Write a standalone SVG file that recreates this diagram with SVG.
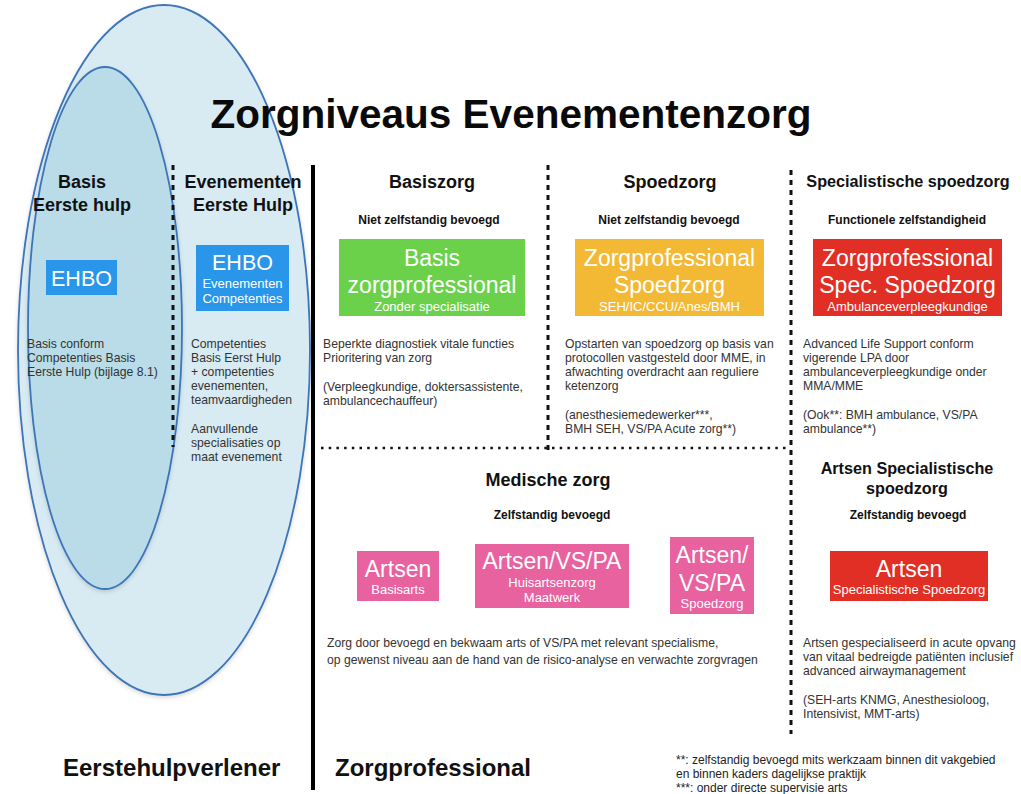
<svg xmlns="http://www.w3.org/2000/svg" width="1021" height="794" viewBox="0 0 1021 794">
  <style>
    text { font-family: "Liberation Sans", Arial, sans-serif; }
    .title { font-size: 40.5px; font-weight: bold; fill: #0a0a0a; }
    .head { font-size: 18px; font-weight: bold; fill: #111; }
    .head2 { font-size: 16.2px; font-weight: bold; fill: #111; }
    .sub { font-size: 12px; font-weight: bold; fill: #111; }
    .body { font-size: 12.2px; fill: #333; }
    .foot { font-size: 12px; fill: #222; }
    .big { font-size: 24px; font-weight: bold; fill: #111; }
    .bl { font-size: 23px; fill: #fff; }
    .bs { font-size: 13px; fill: #fff; }
    .dashv { stroke: #111; stroke-width: 3; stroke-dasharray: 5 5; fill: none; }
    .doth { stroke: #111; stroke-width: 2.5; stroke-dasharray: 2.5 5.2; fill: none; }
  </style>
  <defs>
    <filter id="soft" x="-10%" y="-10%" width="120%" height="120%">
      <feDropShadow dx="0" dy="2" stdDeviation="2" flood-color="#000" flood-opacity="0.15"/>
    </filter>
  </defs>
  <rect width="1021" height="794" fill="#fff"/>

  <!-- first-aid scope ellipses -->
  <g id="scope">
    <ellipse cx="164" cy="350" rx="146" ry="345" fill="#d8ebf3" stroke="#3d74b9" stroke-width="1.8" filter="url(#soft)"/>
    <ellipse cx="105" cy="328" rx="77" ry="261" fill="#b9dce8" stroke="#3d74b9" stroke-width="1.8" filter="url(#soft)"/>
  </g>

  <text class="title" x="511" y="128" text-anchor="middle">Zorgniveaus Evenementenzorg</text>

  <!-- separators -->
  <g id="connectors">
    <line class="dashv" x1="173" y1="165" x2="173" y2="447"/>
    <line x1="313" y1="165" x2="313" y2="790" stroke="#000" stroke-width="4"/>
    <line class="dashv" x1="548" y1="165" x2="548" y2="450"/>
    <line class="dashv" x1="791" y1="170" x2="791" y2="734"/>
    <line class="doth" x1="321" y1="448" x2="790" y2="448"/>
  </g>

  <g id="basis-eerste-hulp">
    <text class="head" x="82" y="188" text-anchor="middle">Basis</text>
    <text class="head" x="82" y="211" text-anchor="middle">Eerste hulp</text>
    <rect x="46" y="260" width="71" height="35" fill="#2a96ea"/>
    <text class="bl" x="81.5" y="286" text-anchor="middle" style="font-size:21.5px">EHBO</text>
    <text class="body" x="27" y="348">Basis conform</text>
    <text class="body" x="27" y="362">Competenties Basis</text>
    <text class="body" x="27" y="376">Eerste Hulp (bijlage 8.1)</text>
  </g>

  <g id="evenementen-eerste-hulp">
    <text class="head" x="243" y="188" text-anchor="middle">Evenementen</text>
    <text class="head" x="243" y="211" text-anchor="middle">Eerste Hulp</text>
    <rect x="196" y="245" width="93" height="66" fill="#2a96ea"/>
    <text class="bl" x="242.5" y="270" text-anchor="middle" style="font-size:21.5px">EHBO</text>
    <text class="bs" x="242.5" y="288" text-anchor="middle">Evenementen</text>
    <text class="bs" x="242.5" y="303" text-anchor="middle">Competenties</text>
    <text class="body" x="191" y="348">Competenties</text>
    <text class="body" x="191" y="362">Basis Eerst Hulp</text>
    <text class="body" x="191" y="376">+ competenties</text>
    <text class="body" x="191" y="390">evenementen,</text>
    <text class="body" x="191" y="404">teamvaardigheden</text>
    <text class="body" x="191" y="433">Aanvullende</text>
    <text class="body" x="191" y="447">specialisaties op</text>
    <text class="body" x="191" y="461">maat evenement</text>
  </g>

  <g id="basiszorg">
    <text class="head" x="432" y="188" text-anchor="middle">Basiszorg</text>
    <text class="sub" x="429" y="224" text-anchor="middle">Niet zelfstandig bevoegd</text>
    <rect x="339" y="239" width="186" height="77" fill="#6bd14b"/>
    <text class="bl" x="432" y="266" text-anchor="middle">Basis</text>
    <text class="bl" x="432" y="293" text-anchor="middle">zorgprofessional</text>
    <text class="bs" x="432" y="311" text-anchor="middle">Zonder specialisatie</text>
    <text class="body" x="323" y="348">Beperkte diagnostiek vitale functies</text>
    <text class="body" x="323" y="362">Prioritering van zorg</text>
    <text class="body" x="323" y="391">(Verpleegkundige, doktersassistente,</text>
    <text class="body" x="323" y="405">ambulancechauffeur)</text>
  </g>

  <g id="spoedzorg">
    <text class="head" x="670" y="188" text-anchor="middle">Spoedzorg</text>
    <text class="sub" x="669" y="224" text-anchor="middle">Niet zelfstandig bevoegd</text>
    <rect x="575" y="239" width="189" height="77" fill="#f3b934"/>
    <text class="bl" x="669.5" y="266" text-anchor="middle">Zorgprofessional</text>
    <text class="bl" x="669.5" y="293" text-anchor="middle">Spoedzorg</text>
    <text class="bs" x="669.5" y="311" text-anchor="middle">SEH/IC/CCU/Anes/BMH</text>
    <text class="body" x="565" y="348">Opstarten van spoedzorg op basis van</text>
    <text class="body" x="565" y="362">protocollen vastgesteld door MME, in</text>
    <text class="body" x="565" y="376">afwachting overdracht aan reguliere</text>
    <text class="body" x="565" y="390">ketenzorg</text>
    <text class="body" x="565" y="419">(anesthesiemedewerker***,</text>
    <text class="body" x="565" y="433">BMH SEH, VS/PA Acute zorg**)</text>
  </g>

  <g id="specialistische-spoedzorg">
    <text class="head2" x="908" y="187" text-anchor="middle">Specialistische spoedzorg</text>
    <text class="sub" x="907" y="224" text-anchor="middle">Functionele zelfstandigheid</text>
    <rect x="813" y="239" width="189" height="77" fill="#e12f25"/>
    <text class="bl" x="907.5" y="266" text-anchor="middle">Zorgprofessional</text>
    <text class="bl" x="907.5" y="293" text-anchor="middle">Spec. Spoedzorg</text>
    <text class="bs" x="907.5" y="311" text-anchor="middle">Ambulanceverpleegkundige</text>
    <text class="body" x="803" y="348">Advanced Life Support conform</text>
    <text class="body" x="803" y="362">vigerende LPA door</text>
    <text class="body" x="803" y="376">ambulanceverpleegkundige onder</text>
    <text class="body" x="803" y="390">MMA/MME</text>
    <text class="body" x="803" y="419">(Ook**: BMH ambulance, VS/PA</text>
    <text class="body" x="803" y="433">ambulance**)</text>
  </g>

  <g id="medische-zorg">
    <text class="head" x="548" y="486" text-anchor="middle">Medische zorg</text>
    <text class="sub" x="552" y="519" text-anchor="middle">Zelfstandig bevoegd</text>
    <rect x="357" y="551" width="82" height="50" fill="#e8629f"/>
    <text class="bl" x="398" y="577" text-anchor="middle">Artsen</text>
    <text class="bs" x="398" y="594" text-anchor="middle">Basisarts</text>
    <rect x="475" y="544" width="154" height="64" fill="#e8629f"/>
    <text class="bl" x="552" y="569" text-anchor="middle">Artsen/VS/PA</text>
    <text class="bs" x="552" y="587" text-anchor="middle">Huisartsenzorg</text>
    <text class="bs" x="552" y="602" text-anchor="middle">Maatwerk</text>
    <rect x="670" y="537" width="84" height="77" fill="#e8629f"/>
    <text class="bl" x="712" y="563" text-anchor="middle">Artsen/</text>
    <text class="bl" x="712" y="591" text-anchor="middle">VS/PA</text>
    <text class="bs" x="712" y="608" text-anchor="middle">Spoedzorg</text>
    <text class="body" x="327" y="647">Zorg door bevoegd en bekwaam arts of VS/PA met relevant specialisme,</text>
    <text class="body" x="327" y="664">op gewenst niveau aan de hand van de risico-analyse en verwachte zorgvragen</text>
  </g>

  <g id="artsen-specialistische-spoedzorg">
    <text class="head2" x="907" y="474" text-anchor="middle">Artsen Specialistische</text>
    <text class="head2" x="907" y="494" text-anchor="middle">spoedzorg</text>
    <text class="sub" x="908" y="519" text-anchor="middle">Zelfstandig bevoegd</text>
    <rect x="830" y="551" width="158" height="50" fill="#e12f25"/>
    <text class="bl" x="909" y="577" text-anchor="middle">Artsen</text>
    <text class="bs" x="909" y="594" text-anchor="middle">Specialistische Spoedzorg</text>
    <text class="body" x="803" y="647">Artsen gespecialiseerd in acute opvang</text>
    <text class="body" x="803" y="661">van vitaal bedreigde patiënten inclusief</text>
    <text class="body" x="803" y="675">advanced airwaymanagement</text>
    <text class="body" x="803" y="704">(SEH-arts KNMG, Anesthesioloog,</text>
    <text class="body" x="803" y="718">Intensivist, MMT-arts)</text>
  </g>

  <g id="footer">
    <text class="big" x="63" y="776">Eerstehulpverlener</text>
    <text class="big" x="335" y="776">Zorgprofessional</text>
    <text class="foot" x="676" y="764">**: zelfstandig bevoegd mits werkzaam binnen dit vakgebied</text>
    <text class="foot" x="676" y="778">en binnen kaders dagelijkse praktijk</text>
    <text class="foot" x="676" y="792">***: onder directe supervisie arts</text>
  </g>
</svg>
